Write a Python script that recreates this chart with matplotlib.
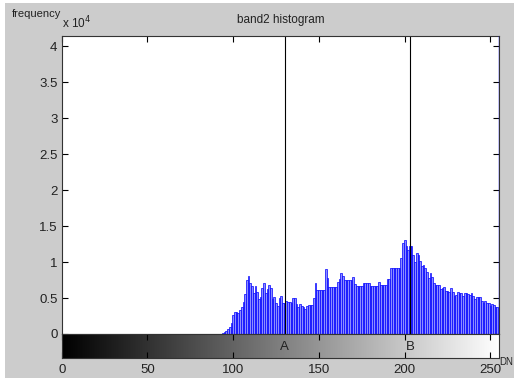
import numpy as np
import matplotlib.pyplot as plt
from matplotlib.patches import Rectangle

plt.rcParams["font.family"] = ["Liberation Sans", "DejaVu Sans"]

# histogram counts, DN 94..254
dn = np.arange(94, 255)
counts = np.array([
    180, 280, 460, 700, 1000, 1480, 2640, 3000, 3000, 2870,      # 94-103
    3330, 3700, 4500, 5500, 7500, 8060, 7040, 6710, 5740, 6670,  # 104-113
    5880, 4820, 5190, 6350, 7040, 5650, 6210, 6760, 6440, 4820,  # 114-123
    5190, 4260, 3940, 4960, 5280, 4350, 4260, 4630, 4500, 4500,  # 124-133
    4350, 4960, 4960, 4130, 3800, 4130, 3940, 3700, 3430, 3890,  # 134-143
    4030, 4030, 4030, 5050, 7130, 6120, 6120, 6120, 6120, 6120,  # 144-153
    8990, 7740, 6490, 6490, 6490, 6490, 6490, 7180, 7640, 8430,  # 154-163
    8100, 7500, 7500, 7500, 7500, 7500, 7880, 6950, 6670, 6670,  # 164-173
    6670, 6670, 7130, 7130, 7130, 7130, 6670, 6670, 6670, 6670,  # 174-183
    6670, 7270, 6810, 6810, 6810, 6810, 7640, 7640, 9130, 9130,  # 184-193
    9130, 9130, 9130, 9130, 10520, 12690, 13070, 12280, 11680, 12280,  # 194-203
    12280, 10980, 9960, 11210, 10980, 10150, 9450, 9590, 9220, 8660,   # 204-213
    7830, 8520, 7970, 7100, 6810, 6800, 6810, 6210, 6400, 6570,  # 214-223
    5980, 6000, 5880, 6440, 5800, 5330, 5420, 5790, 5650, 5650,  # 224-233
    5280, 5650, 5650, 5500, 5420, 5650, 5330, 4820, 5100, 5190,  # 234-243
    5190, 4630, 4260, 4630, 4260, 4260, 3940, 4170, 4030, 3710,  # 244-253
    3700,                                                        # 254
])

marker_dn = [130, 203]
marker_labels = ["A", "B"]
xticks = [0, 50, 100, 150, 200, 250]
yticks = [0, 0.5, 1, 1.5, 2, 2.5, 3, 3.5, 4]
ytick_labels = ["0", "0.5", "1", "1.5", "2", "2.5", "3", "3.5", "4"]

W, H = 514, 378
TXT = "#222222"
fig = plt.figure(figsize=(W / 100, H / 100), dpi=100, facecolor="white")
# grey MATLAB figure area, leaving the thin white screenshot border
fig.patches.append(Rectangle((5 / W, 0), 1, 1 - 3 / H, transform=fig.transFigure,
                             facecolor="#cccccc", edgecolor="none", zorder=-10))

x0, x1 = 61.7 / W, 499 / W
ax = fig.add_axes([x0, 1 - 334 / H, x1 - x0, (334 - 36) / H])
ax.bar(dn, counts / 1e4, width=1.0, color="#8c8cff", edgecolor="#0000ff", linewidth=0.5)
for d in marker_dn:
    ax.axvline(d, color="black", linewidth=0.8)
ax.axvline(255, color="#0000ff", linewidth=1.0, zorder=5)
ax.set_xlim(0, 255)
ax.set_ylim(0, 4.145)
ax.set_xticks(xticks)
ax.set_yticks(yticks)
ax.set_yticklabels(ytick_labels)
ax.tick_params(axis="x", direction="in", top=True, bottom=False, labelbottom=False, length=4)
ax.tick_params(axis="y", direction="in", left=True, right=True, length=4, labelsize=9.5,
               labelcolor=TXT, pad=3)
for s in ax.spines.values():
    s.set_color("#333333")
    s.set_linewidth(0.8)

cax = fig.add_axes([x0, 1 - 358 / H, x1 - x0, 24 / H])
grad = np.linspace(0, 1, 256).reshape(1, -1)
cax.imshow(grad, cmap="gray", aspect="auto", extent=[0, 255, 0, 1], interpolation="bilinear")
cax.set_xlim(0, 255)
cax.set_ylim(0, 1)
cax.set_yticks([])
cax.set_xticks(xticks)
cax.tick_params(axis="x", direction="in", top=True, bottom=True, length=4, labelsize=9.5,
                labelcolor=TXT, pad=4)
for s in cax.spines.values():
    s.set_color("#333333")
    s.set_linewidth(0.8)
for d, lab in zip(marker_dn, marker_labels):
    cax.text(d, 0.45, lab, ha="center", va="center", fontsize=9.5, color=TXT)

fig.text(12 / W, 1 - 14 / H, "frequency", ha="left", va="center", fontsize=8, color=TXT)
fig.text(62 / W, 1 - 23 / H, r"x 10$^4$", ha="left", va="center", fontsize=8.5, color=TXT)
fig.text(280.5 / W, 1 - 20 / H, "band2 histogram", ha="center", va="center", fontsize=8.5, color=TXT)
fig.text(513 / W, 1 - 362 / H, "DN", ha="right", va="center", fontsize=7, color=TXT)

fig.savefig("out.png", dpi=100, facecolor=fig.get_facecolor())
